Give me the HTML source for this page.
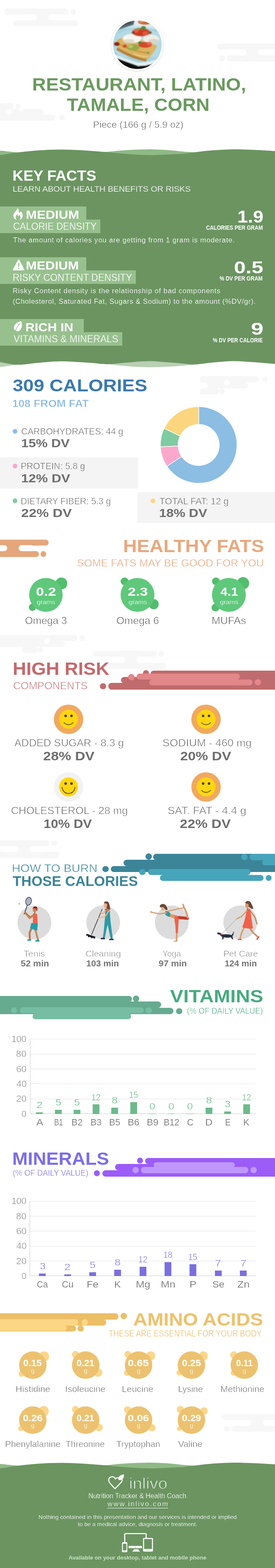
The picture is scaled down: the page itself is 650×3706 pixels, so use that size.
<!DOCTYPE html>
<html lang="en"><head><meta charset="utf-8"><title>Restaurant, Latino, tamale, corn</title><style>
html,body{margin:0;padding:0;background:#fff;}
body{width:650px;height:3706px;overflow:hidden;font-family:"Liberation Sans",sans-serif;}
#wrap{position:relative;width:650px;height:3706px;overflow:hidden;background:#fff;}
.b{position:absolute;display:block;}
.t{position:absolute;white-space:nowrap;line-height:1;margin:0;padding:0;transform-origin:0 0;}
</style></head>
<body>
<div id="wrap">
<!-- header -->
<div class="b" style="left:10.5px;top:20.4px;width:174px;height:42px;"><div class="b" style="left:0px;top:0px;width:151px;height:14.2px;background:#f7f7f7;border-radius:7.1px;"></div><div class="b" style="left:155.2px;top:0.2px;width:13.6px;height:13.6px;background:#f7f7f7;border-radius:50%;"></div><div class="b" style="left:21px;top:27.8px;width:153px;height:14.2px;background:#f7f7f7;border-radius:7.1px;"></div><div class="b" style="left:66px;top:13.5px;width:47px;height:15px;background:#f7f7f7;"></div><div class="b" style="left:40px;top:14px;width:36.5px;height:14px;background:#fff;border-radius:7px;"></div><div class="b" style="left:103.5px;top:14px;width:36.5px;height:14px;background:#fff;border-radius:7px;"></div></div>
<div class="b" style="left:513px;top:103.4px;width:174px;height:42px;transform:scale(-1,-1);"><div class="b" style="left:0px;top:0px;width:151px;height:14.2px;background:#f7f7f7;border-radius:7.1px;"></div><div class="b" style="left:155.2px;top:0.2px;width:13.6px;height:13.6px;background:#f7f7f7;border-radius:50%;"></div><div class="b" style="left:21px;top:27.8px;width:153px;height:14.2px;background:#f7f7f7;border-radius:7.1px;"></div><div class="b" style="left:66px;top:13.5px;width:47px;height:15px;background:#f7f7f7;"></div><div class="b" style="left:40px;top:14px;width:36.5px;height:14px;background:#fff;border-radius:7px;"></div><div class="b" style="left:103.5px;top:14px;width:36.5px;height:14px;background:#fff;border-radius:7px;"></div></div>
<div class="b" style="left:-20px;top:244px;width:52px;height:14px;background:#f7f7f7;border-radius:7px;"></div>
<div class="b" style="left:37px;top:245px;width:12px;height:12px;background:#f7f7f7;border-radius:50%;"></div>
<div class="b" style="left:-20px;top:257.5px;width:123.5px;height:13.5px;background:#f7f7f7;border-radius:6.75px;"></div>
<div class="b" style="left:-20px;top:270.5px;width:151px;height:14px;background:#f7f7f7;border-radius:7px;"></div>
<div class="b" style="left:139.9px;top:270.9px;width:13.2px;height:13.2px;background:#f7f7f7;border-radius:50%;"></div>
<div class="b" style="left:16px;top:258.5px;width:12px;height:12px;background:#fff;border-radius:50%;"></div>
<div class="b" style="left:45px;top:253px;width:10px;height:10px;background:#fff;border-radius:50%;"></div>
<svg class="b" style="left:255px;top:35px" width="140" height="140" viewBox="0 0 140 140">
<defs><clipPath id="pc"><circle cx="69.7" cy="70.6" r="57.4"/></clipPath>
<filter id="bl" x="-20%" y="-20%" width="140%" height="140%"><feGaussianBlur stdDeviation="1.1"/></filter>
<filter id="bs" x="-20%" y="-20%" width="140%" height="140%"><feGaussianBlur stdDeviation="1.2"/></filter></defs>
<circle cx="69.7" cy="71.4" r="62.6" fill="#e4e4e4" filter="url(#bs)"/>
<circle cx="69.7" cy="70.6" r="61.6" fill="#fff"/>
<g clip-path="url(#pc)"><g filter="url(#bl)">
<rect x="0" y="0" width="140" height="140" fill="#a6d3df"/>
<path d="M0 36 Q60 24 140 38 L140 0 L0 0Z" fill="#cbe5ec"/>
<path d="M8 6 L66 6 L60 24 Q40 30 16 38Z" fill="#56666b"/>
<path d="M18 12 L58 10 L54 20 L22 28Z" fill="#3f4e53"/>
<path d="M62 10 L112 10 L116 26 Q90 30 64 24Z" fill="#e6eeee"/>
<ellipse cx="88" cy="17" rx="17" ry="6.5" fill="#c9673a"/>
<ellipse cx="80" cy="15" rx="6" ry="3" fill="#e0a06a"/>
<ellipse cx="99" cy="13" rx="6" ry="3" fill="#ecdcbc"/>
<path d="M0 62 Q20 40 60 34 Q100 30 140 52 L140 100 L0 100Z" fill="#b3dae5"/>
<path d="M0 70 Q10 90 40 104 L0 110Z" fill="#8fc6d8"/>
<path d="M0 86 Q30 100 70 113 Q110 112 140 94 L140 140 L0 140Z" fill="#e3eff2"/>
<path d="M0 94 Q34 108 72 121 Q110 119 140 103 L140 140 L0 140Z" fill="#0d0d0d"/>
<path d="M20.5 59 Q40 50 58 51 L117 73 Q108 92 91 108 Q58 101 24 80Z" fill="#dcb362"/>
<path d="M22 77 Q58 98 92 105 L90 110.5 Q56 105 20 83Z" fill="#b3823a"/>
<path d="M28 70 Q60 88 98 90" stroke="#c08f40" stroke-width="2.2" fill="none"/>
<path d="M60 92 Q80 100 96 98" stroke="#eed48a" stroke-width="2" fill="none"/>
<ellipse cx="102" cy="57" rx="19" ry="10" fill="#efede6"/>
<ellipse cx="108" cy="62" rx="12" ry="5" fill="#d9d4c6"/>
<ellipse cx="57" cy="56" rx="22" ry="10.5" fill="#f6f5ef"/>
<ellipse cx="50" cy="62" rx="13" ry="4.5" fill="#dedacc"/>
<ellipse cx="78" cy="41" rx="21" ry="10" fill="#cc3a20"/>
<ellipse cx="90" cy="44" rx="8" ry="5" fill="#e2573a"/>
<ellipse cx="66" cy="38" rx="6" ry="4.5" fill="#e4603c"/>
<ellipse cx="84" cy="31" rx="6" ry="4.5" fill="#4c8a38"/>
<ellipse cx="72" cy="33" rx="3.5" ry="3" fill="#79a84c"/>
<ellipse cx="60" cy="42" rx="4" ry="3" fill="#8b3a22"/>
<ellipse cx="99" cy="42" rx="5" ry="3.5" fill="#8b5a36"/>
<ellipse cx="88" cy="71" rx="16" ry="7" fill="#d4472a"/>
<ellipse cx="98" cy="68" rx="6" ry="4" fill="#e86a48"/>
<ellipse cx="60" cy="77" rx="15" ry="7.5" fill="#95a946"/>
<ellipse cx="54" cy="75" rx="6" ry="4" fill="#b9c466"/>
<ellipse cx="76" cy="66" rx="5" ry="3" fill="#3f7a30"/>
<ellipse cx="21" cy="69" rx="7" ry="5" fill="#8f2817"/>
<ellipse cx="40" cy="74" rx="5" ry="4" fill="#cf4a2a"/>
<ellipse cx="95" cy="90" rx="3" ry="2.5" fill="#6a9a3a"/>
<rect x="80" y="117.5" width="12" height="2.2" fill="#f2f2f2"/>
</g></g>
</svg>
<div class="t" style="left:76.15px;top:177.83px;font-size:43.2px;color:#6a9a5f;font-weight:700;transform:scaleX(1.047);">RESTAURANT, LATINO,</div>
<div class="t" style="left:158.36px;top:225.93px;font-size:43.2px;color:#6a9a5f;font-weight:700;transform:scaleX(1.0288);">TAMALE, CORN</div>
<div class="t" style="left:220.15px;top:284.28px;font-size:22.6px;color:#555;transform:scaleX(0.9939);-webkit-text-stroke:0.6px #fff;">Piece (166 g / 5.9 oz)</div>
<!-- key facts -->
<div class="b" style="left:0px;top:370px;width:650px;height:480px;background:#6b9461;"></div>
<svg class="b" style="left:0;top:345px" width="650" height="30" viewBox="0 345 650 30"><path d="M-30 355 C-25 355.15 -11.83 355.02 0 355.9 C11.83 356.78 27.67 358.87 41 360.3 C54.33 361.73 63.5 363.55 80 364.5 C96.5 365.45 117.5 366.25 140 366 C162.5 365.75 196.83 364.12 215 363 C233.17 361.88 234.83 360.67 249 359.3 C263.17 357.93 282.17 355.85 300 354.8 C317.83 353.75 339.33 352.97 356 353 C372.67 353.03 386.83 354.1 400 355 C413.17 355.9 425.17 357.57 435 358.4 C444.83 359.23 448.17 359.07 459 360 C469.83 360.93 483.17 363 500 364 C516.83 365 530 365.67 560 366 C590 366.33 660 366 680 366 L680 376 L-30 376 Z" fill="#8fb986"/><path d="M-30 367 C-25 366.93 -11.83 367.72 0 366.6 C11.83 365.48 26 362.15 41 360.3 C56 358.45 73.33 356.63 90 355.5 C106.67 354.37 124.33 353.58 141 353.5 C157.67 353.42 176.83 354.42 190 355 C203.17 355.58 210.17 356.28 220 357 C229.83 357.72 235.67 358.13 249 359.3 C262.33 360.47 282.17 362.78 300 364 C317.83 365.22 337.67 366.52 356 366.6 C374.33 366.68 396.83 365.07 410 364.5 C423.17 363.93 426.83 363.95 435 363.2 C443.17 362.45 448.17 361.28 459 360 C469.83 358.72 484.67 356.67 500 355.5 C515.33 354.33 534.33 353.2 551 353 C567.67 352.8 583.5 353.63 600 354.3 C616.5 354.97 636.67 356.22 650 357 C663.33 357.78 675 358.67 680 359 L680 376 L-30 376 Z" fill="#6b9461"/></svg>
<svg class="b" style="left:0;top:845px" width="650" height="30" viewBox="0 845 650 30"><path d="M-20 868.5 C-16.67 868.35 -10.33 868.68 0 867.6 C10.33 866.52 25.33 863.93 42 862 C58.67 860.07 82 857.5 100 856 C118 854.5 133.33 853 150 853 C166.67 853 182.67 854.72 200 856 C217.33 857.28 237.33 859.12 254 860.7 C270.67 862.28 283.83 864.28 300 865.5 C316.17 866.72 332.67 867.92 351 868 C369.33 868.08 392 867.07 410 866 C428 864.93 440.67 863.43 459 861.6 C477.33 859.77 499.83 856.6 520 855 C540.17 853.4 555 852.5 580 852 C605 851.5 655 852 670 852 L670 844 L-20 844 Z" fill="#b9d0b3"/><path d="M-20 855 C-16.67 855.15 -10.33 854.73 0 855.9 C10.33 857.07 27.33 861.7 42 862 C56.67 862.3 71.5 859.03 88 857.7 C104.5 856.37 124 854.28 141 854 C158 853.72 176.83 855.33 190 856 C203.17 856.67 209.33 857.22 220 858 C230.67 858.78 240.67 860.87 254 860.7 C267.33 860.53 283.83 858.22 300 857 C316.17 855.78 334.33 853.48 351 853.4 C367.67 853.32 386 855.48 400 856.5 C414 857.52 425.17 858.65 435 859.5 C444.83 860.35 448.17 862.02 459 861.6 C469.83 861.18 484.67 858.37 500 857 C515.33 855.63 534.33 853.57 551 853.4 C567.67 853.23 583.5 854.87 600 856 C616.5 857.13 638.33 859.37 650 860.2 C661.67 861.03 666.67 860.87 670 861 L670 844 L-20 844 Z" fill="#6b9461"/></svg>
<div class="t" style="left:29.61px;top:397.63px;font-size:35.4px;color:#fff;font-weight:700;">KEY FACTS</div>
<div class="t" style="left:30.37px;top:437.16px;font-size:19.05px;color:#fff;transform:scaleX(1.0348);-webkit-text-stroke:0.25px #6b9461;">LEARN ABOUT HEALTH BENEFITS OR RISKS</div>
<div class="b" style="left:0px;top:487.8px;width:204.4px;height:31.2px;background:#98c08e;"></div>
<div class="b" style="left:0px;top:518.8px;width:237.3px;height:31.8px;background:#98c08e;"></div>
<div class="t" style="left:60.9px;top:492.64px;font-size:28.3px;color:#fff;font-weight:700;transform:scaleX(1.099);">MEDIUM</div>
<div class="t" style="left:30.7px;top:524.48px;font-size:23.3px;color:#fff;transform:scaleX(0.9406);-webkit-text-stroke:0.3px #98c08e;">CALORIE DENSITY</div>
<svg class="b" style="left:31px;top:491.8px" width="23" height="29" viewBox="0 0.8 23 29"><path d="M10.2 0.3 C12.5 2.6 13.3 5.2 13.3 8.3 C13.3 10 14.2 11.2 15.4 11.2 C16.9 11.2 17.6 9.8 17.2 7.6 C20.6 10.4 22.6 14.2 22.6 18.2 C22.6 23.6 19.3 27.3 15.2 28.6 C16.9 27 17.6 25.2 17.6 23.4 C17.6 20.6 15.9 18.9 15.2 16.5 C13.6 17.3 12.9 18.8 12.9 20.4 C10.9 19 10.2 16.6 10.6 14.2 C7.9 16 6.2 19.4 6.2 22.6 C6.2 25 7 27 8.6 28.6 C3.9 27.4 0.5 23.4 0.5 18.4 C0.5 14.6 2.4 12.3 4.4 10 C6.8 7.2 9.6 4.6 10.2 0.3Z" fill="#fff"/></svg>
<div class="b" style="left:0px;top:608px;width:203.9px;height:31.2px;background:#98c08e;"></div>
<div class="b" style="left:0px;top:639px;width:321.4px;height:31.8px;background:#98c08e;"></div>
<div class="t" style="left:60.91px;top:612.84px;font-size:28.3px;color:#fff;font-weight:700;transform:scaleX(1.0918);">MEDIUM</div>
<div class="t" style="left:29.96px;top:644.68px;font-size:23.3px;color:#fff;transform:scaleX(0.9551);-webkit-text-stroke:0.3px #98c08e;">RISKY CONTENT DENSITY</div>
<svg class="b" style="left:29.5px;top:613.6px" width="29" height="26" viewBox="0 0 29 26"><path d="M14.1 0.6 L26.2 23.4 L2 23.4Z" fill="#fff" stroke="#fff" stroke-width="3" stroke-linejoin="round"/><path d="M12.5 7.8 L15.7 7.8 L15.1 17 L13.1 17Z" fill="#98c08e"/><circle cx="14.1" cy="20.3" r="1.6" fill="#98c08e"/></svg>
<div class="b" style="left:0px;top:753.8px;width:198px;height:31.2px;background:#98c08e;"></div>
<div class="b" style="left:0px;top:784.8px;width:288.7px;height:31.8px;background:#98c08e;"></div>
<div class="t" style="left:60.24px;top:758.64px;font-size:28.3px;color:#fff;font-weight:700;transform:scaleX(1.0761);">RICH  IN</div>
<div class="t" style="left:31.69px;top:790.48px;font-size:23.3px;color:#fff;transform:scaleX(0.9675);-webkit-text-stroke:0.3px #98c08e;">VITAMINS &amp; MINERALS</div>
<svg class="b" style="left:32px;top:758px" width="21" height="26" viewBox="12 7 21 26"><path d="M30.2 8 C24 9 16 13 13.5 20 C12 24 13 27 14 28 L17 30 C19 32 22 32.5 24.5 31.5 C30 29 32.5 22 31.5 15 C31.2 12 30.8 10 30.2 8Z" fill="#fff"/><path d="M27.2 13.5 C22 19 18.2 25 16.6 31" stroke="#98c08e" stroke-width="1.3" fill="none"/></svg>
<div class="t" style="left:31.13px;top:560.03px;font-size:16px;color:#fff;letter-spacing:0.76px;transform:scaleX(1.04);-webkit-text-stroke:0.2px #6b9461;">The amount of calories you are getting from 1 gram is moderate.</div>
<div class="t" style="left:30.13px;top:680.03px;font-size:16px;color:#fff;letter-spacing:0.82px;transform:scaleX(1.04);-webkit-text-stroke:0.2px #6b9461;">Risky Content density is the relationship of bad components</div>
<div class="t" style="left:29.96px;top:704.73px;font-size:16px;color:#fff;letter-spacing:0.65px;transform:scaleX(1.04);-webkit-text-stroke:0.2px #6b9461;">(Cholesterol, Saturated Fat, Sugars &amp; Sodium) to the amount (%DV/gr).</div>
<div class="t" style="left:560.72px;top:491.62px;font-size:41.2px;color:#fff;font-weight:700;transform:scaleX(1.0798);">1.9</div>
<div class="t" style="left:486.8px;top:531.35px;font-size:14px;color:#fff;font-weight:700;transform:scaleX(0.8856);">CALORIES PER GRAM</div>
<div class="t" style="left:553.3px;top:611.62px;font-size:41.2px;color:#fff;font-weight:700;transform:scaleX(1.2113);">0.5</div>
<div class="t" style="left:519.49px;top:651.45px;font-size:14px;color:#fff;font-weight:700;transform:scaleX(0.8827);">% DV PER GRAM</div>
<div class="t" style="left:593.12px;top:756.62px;font-size:41.2px;color:#fff;font-weight:700;transform:scaleX(1.3012);">9</div>
<div class="t" style="left:502.5px;top:797.15px;font-size:14px;color:#fff;font-weight:700;transform:scaleX(0.8703);">% DV PER CALORIE</div>
<!-- calories -->
<div class="b" style="left:472px;top:889px;width:162px;height:43.5px;"><div class="b" style="left:0px;top:0px;width:138.6px;height:14.6px;background:#f7f7f7;border-radius:7.3px;"></div><div class="b" style="left:147.8px;top:0.5px;width:13.6px;height:13.6px;background:#f7f7f7;border-radius:50%;"></div><div class="b" style="left:8px;top:14.4px;width:92px;height:14.7px;background:#f7f7f7;"></div><div class="b" style="left:80px;top:14.4px;width:33.5px;height:14.7px;background:#f7f7f7;border-radius:7.35px;"></div><div class="b" style="left:0px;top:28.9px;width:46px;height:14.6px;background:#f7f7f7;border-radius:7.3px;"></div><div class="b" style="left:45.7px;top:29.4px;width:13.6px;height:13.6px;background:#f7f7f7;border-radius:50%;"></div><div class="b" style="left:-12px;top:14.5px;width:31px;height:14.5px;background:#fff;border-radius:7.25px;"></div><div class="b" style="left:57.6px;top:8.6px;width:13.6px;height:13.6px;background:#fff;border-radius:50%;"></div></div>
<div class="t" style="left:29.99px;top:890.52px;font-size:41.2px;color:#3b79ae;font-weight:700;transform:scaleX(1.0858);">309 CALORIES</div>
<div class="t" style="left:29.38px;top:941.74px;font-size:24.5px;color:#86b6e1;font-weight:700;transform:scaleX(1.0573);-webkit-text-stroke:0.5px #fff;">108 FROM FAT</div>
<div class="b" style="left:0px;top:1080.8px;width:326px;height:74px;background:#f4f4f4;"></div>
<div class="b" style="left:325px;top:1162.5px;width:325px;height:73.1px;background:#f4f4f4;"></div>
<div class="b" style="left:29.5px;top:1013.5px;width:11.2px;height:11.2px;background:#8cbde3;border-radius:50%;"></div>
<div class="t" style="left:49.94px;top:1008.88px;font-size:22.6px;color:#5e5e5e;transform:scaleX(0.9346);-webkit-text-stroke:0.6px #fff;">CARBOHYDRATES: 44 g</div>
<div class="t" style="left:49.55px;top:1034.17px;font-size:27.8px;color:#6e6e6e;font-weight:700;transform:scaleX(1.1241);">15% DV</div>
<div class="b" style="left:29.5px;top:1095.9px;width:11.2px;height:11.2px;background:#fba8cc;border-radius:50%;"></div>
<div class="t" style="left:49.26px;top:1091.28px;font-size:22.6px;color:#5e5e5e;transform:scaleX(0.9315);-webkit-text-stroke:0.6px #f4f4f4;">PROTEIN: 5.8 g</div>
<div class="t" style="left:49.53px;top:1116.57px;font-size:27.8px;color:#6e6e6e;font-weight:700;transform:scaleX(1.1351);">12% DV</div>
<div class="b" style="left:29.5px;top:1178.3px;width:11.2px;height:11.2px;background:#80cba2;border-radius:50%;"></div>
<div class="t" style="left:49.28px;top:1173.68px;font-size:22.6px;color:#5e5e5e;transform:scaleX(0.9218);-webkit-text-stroke:0.6px #fff;">DIETARY FIBER: 5.3 g</div>
<div class="t" style="left:50.36px;top:1198.97px;font-size:27.8px;color:#6e6e6e;font-weight:700;transform:scaleX(1.1751);">22% DV</div>
<div class="b" style="left:356.2px;top:1178.3px;width:11.2px;height:11.2px;background:#fbd67e;border-radius:50%;"></div>
<div class="t" style="left:376.51px;top:1173.68px;font-size:22.6px;color:#5e5e5e;transform:scaleX(0.9611);-webkit-text-stroke:0.6px #f4f4f4;">TOTAL FAT: 12 g</div>
<div class="t" style="left:375.56px;top:1198.97px;font-size:27.8px;color:#6e6e6e;font-weight:700;transform:scaleX(1.1141);">18% DV</div>
<svg class="b" style="left:377.4px;top:958.9px" width="185.2" height="185.2" viewBox="-92.6 -92.6 185.2 185.2"><path d="M0 -90.6 A90.6 90.6 0 1 1 -75.17 50.58 L-40.41 27.19 A48.7 48.7 0 1 0 0 -48.7 Z" fill="#8cbde3" stroke="#fff" stroke-width="1.4" stroke-linejoin="round"/><path d="M-75.17 50.58 A90.6 90.6 0 0 1 -90.49 4.45 L-48.64 2.39 A48.7 48.7 0 0 0 -40.41 27.19 Z" fill="#fba8cc" stroke="#fff" stroke-width="1.4" stroke-linejoin="round"/><path d="M-90.49 4.45 A90.6 90.6 0 0 1 -81.69 -39.17 L-43.91 -21.06 A48.7 48.7 0 0 0 -48.64 2.39 Z" fill="#80cba2" stroke="#fff" stroke-width="1.4" stroke-linejoin="round"/><path d="M-81.69 -39.17 A90.6 90.6 0 0 1 0 -90.6 L0 -48.7 A48.7 48.7 0 0 0 -43.91 -21.06 Z" fill="#fbd67e" stroke="#fff" stroke-width="1.4" stroke-linejoin="round"/></svg>
<!-- healthy fats -->
<div class="b" style="left:-59.5px;top:1275px;width:174px;height:41.5px;transform:scale(1,-1);"><div class="b" style="left:0px;top:0px;width:151px;height:14.03px;background:#e4a77b;border-radius:7.02px;"></div><div class="b" style="left:155.2px;top:0.12px;width:13.6px;height:13.6px;background:#e4a77b;border-radius:50%;"></div><div class="b" style="left:21px;top:27.47px;width:153px;height:14.03px;background:#e4a77b;border-radius:7.02px;"></div><div class="b" style="left:66px;top:13.33px;width:47px;height:14.83px;background:#e4a77b;"></div><div class="b" style="left:40px;top:13.83px;width:36.5px;height:13.83px;background:#fff;border-radius:6.92px;"></div><div class="b" style="left:103.5px;top:13.83px;width:36.5px;height:13.83px;background:#fff;border-radius:6.92px;"></div></div>
<div class="t" style="left:290.76px;top:1268.53px;font-size:43.2px;color:#e9a87e;font-weight:700;transform:scaleX(1.0435);">HEALTHY FATS</div>
<div class="t" style="left:181.58px;top:1319.11px;font-size:24.55px;color:#e8a277;transform:scaleX(1.0128);-webkit-text-stroke:0.55px #fff;">SOME FATS MAY BE GOOD FOR YOU</div>
<div class="b" style="left:131.3px;top:1365.2px;width:28px;height:28px;background:#53bd6e;border-radius:50%;"></div>
<div class="b" style="left:67.8px;top:1426.8px;width:17.4px;height:17.4px;background:#53bd6e;border-radius:50%;"></div>
<div class="b" style="left:68.5px;top:1366px;width:79.8px;height:79.8px;background:#5fc87b;border-radius:50%;"></div>
<div class="t" style="left:85.03px;top:1385.32px;font-size:27.5px;color:#fff;font-weight:700;transform:scaleX(1.2468);">0.2</div>
<div class="t" style="left:87.24px;top:1415.12px;font-size:15.1px;color:#fff;transform:scaleX(1.0302);-webkit-text-stroke:0.3px #5fc87b;">grams</div>
<div class="t" style="left:59.45px;top:1455.16px;font-size:24.4px;color:#5a5a5a;transform:scaleX(0.9903);-webkit-text-stroke:0.6px #fff;">Omega 3</div>
<div class="b" style="left:285.3px;top:1364.9px;width:18.6px;height:18.6px;background:#53bd6e;border-radius:50%;"></div>
<div class="b" style="left:351.6px;top:1416px;width:23.6px;height:23.6px;background:#53bd6e;border-radius:50%;"></div>
<div class="b" style="left:285.2px;top:1366px;width:79.8px;height:79.8px;background:#5fc87b;border-radius:50%;"></div>
<div class="t" style="left:301.91px;top:1385.32px;font-size:27.5px;color:#fff;font-weight:700;transform:scaleX(1.2397);">2.3</div>
<div class="t" style="left:303.94px;top:1415.12px;font-size:15.1px;color:#fff;transform:scaleX(1.0302);-webkit-text-stroke:0.3px #5fc87b;">grams</div>
<div class="t" style="left:275.33px;top:1455.16px;font-size:24.4px;color:#5a5a5a;transform:scaleX(1.0066);-webkit-text-stroke:0.6px #fff;">Omega 6</div>
<div class="b" style="left:501px;top:1364.9px;width:18.6px;height:18.6px;background:#53bd6e;border-radius:50%;"></div>
<div class="b" style="left:559.8px;top:1363.6px;width:29.2px;height:29.2px;background:#53bd6e;border-radius:50%;"></div>
<div class="b" style="left:500.3px;top:1426.8px;width:18.6px;height:18.6px;background:#53bd6e;border-radius:50%;"></div>
<div class="b" style="left:501.1px;top:1366px;width:79.8px;height:79.8px;background:#5fc87b;border-radius:50%;"></div>
<div class="t" style="left:520.8px;top:1385.32px;font-size:27.5px;color:#fff;font-weight:700;transform:scaleX(1.0929);">4.1</div>
<div class="t" style="left:519.84px;top:1415.12px;font-size:15.1px;color:#fff;transform:scaleX(1.0302);-webkit-text-stroke:0.3px #5fc87b;">grams</div>
<div class="t" style="left:500.34px;top:1455.16px;font-size:24.4px;color:#5a5a5a;transform:scaleX(1.022);-webkit-text-stroke:0.6px #fff;">MUFAs</div>
<!-- high risk -->
<div class="b" style="left:-20px;top:1500.7px;width:202.5px;height:14.8px;background:#f7f7f7;border-radius:7.4px;"></div>
<div class="b" style="left:187.8px;top:1501.4px;width:13.6px;height:13.6px;background:#f7f7f7;border-radius:50%;"></div>
<div class="b" style="left:-20px;top:1515.1px;width:173px;height:14.4px;background:#f7f7f7;border-radius:7.2px;"></div>
<div class="b" style="left:50px;top:1508px;width:70px;height:14px;background:#f7f7f7;"></div>
<div class="b" style="left:52px;top:1529.1px;width:38px;height:14.4px;background:#f7f7f7;border-radius:7.2px;"></div>
<div class="b" style="left:56px;top:1522px;width:28px;height:14px;background:#f7f7f7;"></div>
<div class="b" style="left:88.7px;top:1529.5px;width:13.6px;height:13.6px;background:#f7f7f7;border-radius:50%;"></div>
<div class="b" style="left:104.2px;top:1508.5px;width:13.6px;height:13.6px;background:#fff;border-radius:50%;"></div>
<div class="b" style="left:219px;top:1537.7px;width:174px;height:43.8px;"><div class="b" style="left:0px;top:0px;width:151px;height:14.8px;background:#f7f7f7;border-radius:7.4px;"></div><div class="b" style="left:155.2px;top:0.5px;width:13.6px;height:13.6px;background:#f7f7f7;border-radius:50%;"></div><div class="b" style="left:21px;top:29px;width:153px;height:14.8px;background:#f7f7f7;border-radius:7.4px;"></div><div class="b" style="left:66px;top:14.1px;width:47px;height:15.6px;background:#f7f7f7;"></div><div class="b" style="left:40px;top:14.6px;width:36.5px;height:14.6px;background:#fff;border-radius:7.3px;"></div><div class="b" style="left:103.5px;top:14.6px;width:36.5px;height:14.6px;background:#fff;border-radius:7.3px;"></div></div>
<div class="b" style="left:356px;top:1584.9px;width:344px;height:14.9px;background:#c06b6e;border-radius:7.45px 0 0 7.45px;"></div><div class="b" style="left:338.4px;top:1584.1px;width:13.2px;height:13.2px;background:#c06b6e;border-radius:50%;"></div><div class="b" style="left:286px;top:1599.5px;width:414px;height:15.2px;background:#c06b6e;border-radius:7.6px 0 0 7.6px;"></div><div class="b" style="left:256px;top:1614.4px;width:444px;height:15.2px;background:#c06b6e;border-radius:7.6px 0 0 7.6px;"></div><div class="b" style="left:236px;top:1614.6px;width:14.6px;height:14.6px;background:#c06b6e;border-radius:50%;"></div>
<div class="b" style="left:303px;top:1593.2px;width:14.6px;height:14.6px;background:#e2878a;border-radius:50%;"></div>
<div class="b" style="left:323px;top:1592.3px;width:243.6px;height:14.1px;background:#e2878a;border-radius:7.05px;"></div>
<div class="b" style="left:352.8px;top:1606px;width:243.8px;height:14px;background:#e2878a;border-radius:7px;"></div>
<div class="b" style="left:602.1px;top:1605.2px;width:14.6px;height:14.6px;background:#e2878a;border-radius:50%;"></div>
<div class="t" style="left:29.62px;top:1558.63px;font-size:43.2px;color:#c4696d;font-weight:700;transform:scaleX(1.0232);">HIGH RISK</div>
<div class="t" style="left:30.77px;top:1609.34px;font-size:24.7px;color:#c26468;transform:scaleX(0.996);-webkit-text-stroke:0.7px #fff;">COMPONENTS</div>
<svg class="b" style="left:126px;top:1664px" width="72" height="72" viewBox="-36 -36 72 72"><circle r="34.8" fill="#f0a95f"/><circle r="22.4" fill="#ffd60f"/><circle cx="-6.9" cy="-8" r="3" fill="#3f3a34"/><circle cx="7" cy="-8" r="3" fill="#3f3a34"/><path d="M-11 8 Q0 17.5 11 8" fill="none" stroke="#3f3a34" stroke-width="1.6" stroke-linecap="round"/></svg>
<div class="t" style="left:33.84px;top:1744.24px;font-size:24.7px;color:#5e5e5e;transform:scaleX(1.0037);-webkit-text-stroke:0.7px #fff;">ADDED SUGAR - 8.3 g</div>
<div class="t" style="left:101.64px;top:1772.15px;font-size:30.3px;color:#6e6e6e;font-weight:700;transform:scaleX(1.0918);">28% DV</div>
<svg class="b" style="left:451px;top:1664px" width="72" height="72" viewBox="-36 -36 72 72"><circle r="34.8" fill="#f0a95f"/><circle r="22.4" fill="#ffd60f"/><circle cx="-6.9" cy="-8" r="3" fill="#3f3a34"/><circle cx="7" cy="-8" r="3" fill="#3f3a34"/><path d="M-11 8 Q0 17.5 11 8" fill="none" stroke="#3f3a34" stroke-width="1.6" stroke-linecap="round"/></svg>
<div class="t" style="left:383.55px;top:1744.24px;font-size:24.7px;color:#5e5e5e;transform:scaleX(1.0377);-webkit-text-stroke:0.7px #fff;">SODIUM - 460 mg</div>
<div class="t" style="left:425.65px;top:1772.15px;font-size:30.3px;color:#6e6e6e;font-weight:700;transform:scaleX(1.0827);">20% DV</div>
<svg class="b" style="left:126px;top:1824px" width="72" height="72" viewBox="-36 -36 72 72"><circle r="34.8" fill="#f2f2f2"/><circle r="22.4" fill="#ffd60f"/><circle cx="-6.9" cy="-8" r="3" fill="#3f3a34"/><circle cx="7" cy="-8" r="3" fill="#3f3a34"/><path d="M-15 0.5 A15 15 0 0 0 15 0.5" fill="none" stroke="#3f3a34" stroke-width="1.6" stroke-linecap="round"/></svg>
<div class="t" style="left:26.05px;top:1904.24px;font-size:24.7px;color:#5e5e5e;transform:scaleX(1.0095);-webkit-text-stroke:0.7px #fff;">CHOLESTEROL - 28 mg</div>
<div class="t" style="left:102.56px;top:1932.15px;font-size:30.3px;color:#6e6e6e;font-weight:700;transform:scaleX(1.0268);">10% DV</div>
<svg class="b" style="left:451px;top:1824px" width="72" height="72" viewBox="-36 -36 72 72"><circle r="34.8" fill="#f0a95f"/><circle r="22.4" fill="#ffd60f"/><circle cx="-6.9" cy="-8" r="3" fill="#3f3a34"/><circle cx="7" cy="-8" r="3" fill="#3f3a34"/><path d="M-11 8 Q0 17.5 11 8" fill="none" stroke="#3f3a34" stroke-width="1.6" stroke-linecap="round"/></svg>
<div class="t" style="left:395.83px;top:1904.24px;font-size:24.7px;color:#5e5e5e;transform:scaleX(1.0517);-webkit-text-stroke:0.7px #fff;">SAT. FAT - 4.4 g</div>
<div class="t" style="left:424.85px;top:1932.15px;font-size:30.3px;color:#6e6e6e;font-weight:700;transform:scaleX(1.0827);">22% DV</div>
<!-- burn -->
<div class="b" style="left:-34px;top:1985.7px;width:174px;height:42px;"><div class="b" style="left:0px;top:0px;width:151px;height:14.2px;background:#f7f7f7;border-radius:7.1px;"></div><div class="b" style="left:155.2px;top:0.2px;width:13.6px;height:13.6px;background:#f7f7f7;border-radius:50%;"></div><div class="b" style="left:21px;top:27.8px;width:153px;height:14.2px;background:#f7f7f7;border-radius:7.1px;"></div><div class="b" style="left:66px;top:13.5px;width:47px;height:15px;background:#f7f7f7;"></div><div class="b" style="left:40px;top:14px;width:36.5px;height:14px;background:#fff;border-radius:7px;"></div><div class="b" style="left:103.5px;top:14px;width:36.5px;height:14px;background:#fff;border-radius:7px;"></div></div>
<div class="b" style="left:361.5px;top:2018px;width:338.5px;height:14.7px;background:#3c8599;border-radius:7.35px 0 0 7.35px;"></div>
<div class="b" style="left:344.3px;top:2017.4px;width:14.8px;height:14.8px;background:#3c8599;border-radius:50%;"></div>
<div class="b" style="left:292.3px;top:2032.2px;width:407.7px;height:14.8px;background:#3c8599;border-radius:7.4px 0 0 7.4px;"></div>
<div class="b" style="left:261.6px;top:2046.5px;width:438.4px;height:14.8px;background:#3c8599;border-radius:7.4px 0 0 7.4px;"></div>
<div class="b" style="left:242.2px;top:2046.6px;width:14.6px;height:14.6px;background:#3c8599;border-radius:50%;"></div>
<div class="b" style="left:329px;top:2053.9px;width:14.6px;height:14.6px;background:#46a5bb;border-radius:50%;"></div>
<div class="b" style="left:349.5px;top:2054px;width:242.8px;height:14.4px;background:#46a5bb;border-radius:7.2px;"></div>
<div class="b" style="left:378.4px;top:2068px;width:244.6px;height:14px;background:#46a5bb;border-radius:7px;"></div>
<div class="b" style="left:627.9px;top:2067.7px;width:14.6px;height:14.6px;background:#46a5bb;border-radius:50%;"></div>
<div class="b" style="left:570.4px;top:2018.2px;width:14.6px;height:14.6px;background:#46a5bb;border-radius:50%;"></div>
<div class="b" style="left:589.8px;top:2018px;width:110.2px;height:14.6px;background:#46a5bb;border-radius:7.3px 0 0 7.3px;"></div>
<div class="b" style="left:620.4px;top:2032.2px;width:79.6px;height:12.8px;background:#46a5bb;border-radius:6.4px 0 0 6.4px;"></div>
<div class="t" style="left:27.68px;top:2038.72px;font-size:26.55px;color:#38859a;transform:scaleX(1.0607);-webkit-text-stroke:0.55px #fff;">HOW TO BURN</div>
<div class="t" style="left:29.67px;top:2065.64px;font-size:33.5px;color:#3a8499;font-weight:700;transform:scaleX(0.9938);">THOSE CALORIES</div>
<svg class="b" style="left:25px;top:2115px" width="120" height="120" viewBox="0 0 120 120">
<circle cx="56.3" cy="65.6" r="40" fill="#dcdcdc"/>
<circle cx="20.7" cy="21.2" r="1.9" fill="#f0a468"/>
<g transform="rotate(14 42.5 15.1)"><ellipse cx="42.5" cy="15.1" rx="6.6" ry="9.6" fill="#e9ecf1" stroke="#27344f" stroke-width="1.5"/>
<path d="M38 9 L47 9 M36.5 12 L48.5 12 M36 15 L49 15 M36.5 18 L48.5 18 M38 21 L47 21 M40 6.5 L40 23.5 M42.5 5.5 L42.5 24.5 M45 6.5 L45 23.5" stroke="#27344f" stroke-width="0.45" fill="none"/></g>
<path d="M39.6 24.6 L32.2 45.4" stroke="#27344f" stroke-width="1.7" stroke-linecap="round"/>
<path d="M49.5 79 L45 89 L45.6 105" stroke="#b9794c" stroke-width="4.4" fill="none" stroke-linecap="round" stroke-linejoin="round"/>
<path d="M58.5 82 L61.5 94 L65 106.5" stroke="#c68a5c" stroke-width="4.4" fill="none" stroke-linecap="round" stroke-linejoin="round"/>
<path d="M49 66.5 L64.3 67.3 L63 84.5 L55 82.5 L46 78.8Z" fill="#2b9aa6"/>
<path d="M52.6 44.4 Q58 42.5 63 46 L64 67.5 L52.6 67.5 Q53 55 52.6 44.4Z" fill="#f0614a"/>
<path d="M56 48 L45 55.5 L33.4 41.5" stroke="#c68a5c" stroke-width="3.6" fill="none" stroke-linecap="round" stroke-linejoin="round"/>
<path d="M56 47 L46 52 L34 40.5" stroke="#b9794c" stroke-width="2.6" fill="none" stroke-linecap="round" stroke-linejoin="round"/>
<rect x="55.3" y="39" width="3.4" height="5.5" fill="#b9794c"/>
<ellipse cx="57" cy="35.5" rx="4.6" ry="5.6" fill="#c68a5c"/>
<path d="M52.6 31.5 Q54 27 59 27.5 Q64 28.5 63.5 34 L62.5 38.5 Q60.5 36 60.5 32.5 Q56 33 52.6 31.5Z" fill="#4a2f22"/>
<path d="M52.2 30.8 L63.8 32.2 L63.6 34.6 L52 33.2Z" fill="#e8503a"/>
<path d="M39.5 106 Q44 103.5 48.5 105.5 L48.5 108.5 L39.5 108.5Z" fill="#2b9aa6"/>
<path d="M58.5 108 Q63 105 68 106.5 L68.5 110.5 L58.5 110.5Z" fill="#2b9aa6"/>
</svg>
<svg class="b" style="left:185px;top:2115px" width="120" height="120" viewBox="0 0 120 120">
<circle cx="58.9" cy="65" r="40" fill="#dcdcdc"/>
<path d="M61 17.5 Q66 13.5 71 17 Q74.5 22 75.5 34.5 L69 34 L62 28Z" fill="#6a4a3b"/>
<ellipse cx="64" cy="24.5" rx="4.2" ry="5.6" fill="#e8b48c"/>
<path d="M61 19 Q66 14 71 18 Q69 22 64 20 Q62 20 61 19Z" fill="#6a4a3b"/>
<rect x="64" y="29" width="3.2" height="5" fill="#dba57c"/>
<path d="M62.5 33.5 Q68 31.5 74 34.5 L75 51 L64 51Z" fill="#f0614a"/>
<path d="M65 39.5 L74.5 39.5 L76 61 L79 85 L81.5 102.5 L76.5 103.5 L69.5 70 L66 85 L62.5 102 L58 101.5 L61 80 L62.5 61Z" fill="#2b9aa6"/>
<path d="M66 34 L65.5 41 M73 34.5 L73.5 41" stroke="#2b9aa6" stroke-width="1.8"/>
<path d="M56.3 34 L31.3 94.2" stroke="#2a2d3a" stroke-width="1.5" stroke-linecap="round"/>
<path d="M64.5 37.5 L57 44.5 L52.5 40" stroke="#e8b48c" stroke-width="2.8" fill="none" stroke-linecap="round" stroke-linejoin="round"/>
<path d="M72 38 L64.5 50 L47.5 55.5" stroke="#e8b48c" stroke-width="2.8" fill="none" stroke-linecap="round" stroke-linejoin="round"/>
<path d="M20 92 L40.5 99 L39.5 104 L34 101.5 L32 103 L28 99.5 L24 100.5 L22 96.5 L18 96.5Z" fill="#1f2029"/>
<path d="M53 102.5 Q58 100.5 63 102 L63 105 L53 105Z" fill="#2a3350"/>
<path d="M73 104.5 Q78 102.5 83.5 104 L83.5 107 L73 107Z" fill="#2a3350"/>
</svg>
<svg class="b" style="left:345px;top:2115px" width="120" height="120" viewBox="0 0 120 120">
<circle cx="61" cy="65" r="40" fill="#dcdcdc"/>
<path d="M53 38.5 L72 34 L87.5 31" stroke="#d99a6c" stroke-width="2.8" fill="none" stroke-linecap="round" stroke-linejoin="round"/>
<path d="M76 53.5 L98 55.5" stroke="#c93a28" stroke-width="7" stroke-linecap="round"/>
<path d="M98.5 54 Q97 42 89 28.5" stroke="#d99a6c" stroke-width="4" fill="none" stroke-linecap="round"/>
<path d="M88 29 L85.5 22 L88.5 21 L91.5 27.5Z" fill="#d99a6c"/>
<path d="M47 38 L59 45 L74 49 L72 58 L58 53 L46 44Z" fill="#d99a6c"/>
<path d="M46 38 Q52 38 57.5 43 L56.5 52 Q50 51.5 45.5 46.5Z" fill="#2b9aa6"/>
<path d="M68 49.5 Q76 49 77.5 56 L76.5 72 L75.5 91 L70.5 91 L69.5 72 Q66.5 60 68 49.5Z" fill="#f0614a"/>
<path d="M73 91 L72 107" stroke="#d99a6c" stroke-width="3.6" stroke-linecap="round"/>
<path d="M63.5 110.5 Q68 107 74 107.5 L74.5 110.5Z" fill="#d99a6c"/>
<path d="M49 42.5 L32 45 L13 41" stroke="#d99a6c" stroke-width="2.8" fill="none" stroke-linecap="round" stroke-linejoin="round"/>
<circle cx="12" cy="40.5" r="1.9" fill="#d99a6c"/>
<ellipse cx="40" cy="32" rx="4.4" ry="5.6" fill="#e8b48c"/>
<path d="M32.5 28 Q33 21.5 40 21.5 Q47 22 49 28 Q51.5 33 50.5 36 Q46 36.5 43.5 32 Q42 28 37 29.5 Q34 30 32.5 28Z" fill="#6a4a3b"/>
</svg>
<svg class="b" style="left:505px;top:2115px" width="120" height="120" viewBox="0 0 120 120">
<circle cx="63" cy="65" r="40" fill="#dcdcdc"/>
<path d="M75 17 Q80 12 86 16 Q91 22 94 33 Q88 34 84 29 L78 27Z" fill="#6a4a3b"/>
<ellipse cx="78.5" cy="24.5" rx="4.2" ry="5.6" fill="#d99a6c"/>
<path d="M74.5 19.5 Q79 13.5 85 17 Q83 22.5 78 20.5Z" fill="#6a4a3b"/>
<rect x="78.5" y="29" width="3.2" height="5" fill="#c98a5c"/>
<path d="M86 37 L97 52 L102.5 68.5" stroke="#c98a5c" stroke-width="2.8" fill="none" stroke-linecap="round" stroke-linejoin="round"/>
<path d="M85 78 L93 89 L104 99" stroke="#c98a5c" stroke-width="3.4" fill="none" stroke-linecap="round" stroke-linejoin="round"/>
<path d="M72 77 L66 90 L62.5 103" stroke="#d99a6c" stroke-width="3.4" fill="none" stroke-linecap="round" stroke-linejoin="round"/>
<path d="M78 33.5 Q82 32 86.5 34 Q88 48 93 79.5 Q80 80.5 67.5 77 Q76 55 78 33.5Z" fill="#f0614a"/>
<path d="M78.5 38 L66 51 L55 56.5" stroke="#d99a6c" stroke-width="2.8" fill="none" stroke-linecap="round" stroke-linejoin="round"/>
<path d="M54.4 57 L19.9 91.6" stroke="#8a8a8a" stroke-width="0.8"/>
<path d="M56 105.5 Q62 102.5 66.5 104.5 L66.5 106.8 L56 106.8Z" fill="#e8503a"/>
<path d="M100.5 105 L106 97.5 L108.5 99.5 L103 107Z" fill="#e8503a"/>
<path d="M8 89.5 Q12 88 17 90.5 L21 93.5 Q32 92 42 95 Q45.5 93 46.5 87 L47.8 87.3 Q47.5 94.5 44.5 97.5 L46 105 L44 105.5 L41 100.5 Q32 102 24 100.5 L22.5 105.5 L20.5 105.5 L20 99 Q16 97.5 14.5 94 L9 93Z" fill="#2a3044"/>
<path d="M17.5 90.5 L20.5 93 L19 96 L16 93.5Z" fill="#e8503a"/>
</svg>
<div class="t" style="left:56.02px;top:2243.17px;font-size:21px;color:#777;transform:scaleX(1.0245);-webkit-text-stroke:0.7px #fff;">Tenis</div>
<div class="t" style="left:49.07px;top:2268.09px;font-size:19.5px;color:#757575;font-weight:700;transform:scaleX(1.0831);">52 min</div>
<div class="t" style="left:201.89px;top:2243.17px;font-size:21px;color:#777;transform:scaleX(1.0095);-webkit-text-stroke:0.7px #fff;">Cleaning</div>
<div class="t" style="left:204.46px;top:2268.09px;font-size:19.5px;color:#757575;font-weight:700;transform:scaleX(1.0613);">103 min</div>
<div class="t" style="left:384.26px;top:2243.17px;font-size:21px;color:#777;transform:scaleX(0.9256);-webkit-text-stroke:0.7px #fff;">Yoga</div>
<div class="t" style="left:374.61px;top:2268.09px;font-size:19.5px;color:#757575;font-weight:700;transform:scaleX(1.0799);">97 min</div>
<div class="t" style="left:528.39px;top:2243.17px;font-size:21px;color:#777;transform:scaleX(0.9848);-webkit-text-stroke:0.7px #fff;">Pet Care</div>
<div class="t" style="left:530.72px;top:2268.09px;font-size:19.5px;color:#757575;font-weight:700;transform:scaleX(1.0484);">124 min</div>
<!-- vitamins -->
<div class="b" style="left:-50px;top:2354px;width:361.5px;height:13.5px;background:#66ab90;border-radius:0 6.75px 6.75px 0;"></div>
<div class="b" style="left:314.2px;top:2353.1px;width:14.8px;height:14.8px;background:#66ab90;border-radius:50%;"></div>
<div class="b" style="left:-50px;top:2367px;width:431px;height:15px;background:#66ab90;border-radius:0 7.5px 7.5px 0;"></div>
<div class="b" style="left:-50px;top:2381.5px;width:460px;height:15.7px;background:#66ab90;border-radius:0 7.85px 7.85px 0;"></div>
<div class="b" style="left:416px;top:2382.5px;width:14.8px;height:14.8px;background:#66ab90;border-radius:50%;"></div>
<div class="b" style="left:25.9px;top:2380.8px;width:14.6px;height:14.6px;background:#76bea3;border-radius:50%;"></div>
<div class="b" style="left:46.5px;top:2380.9px;width:293px;height:14.4px;background:#76bea3;border-radius:7.2px;"></div>
<div class="b" style="left:344.3px;top:2380.8px;width:14.6px;height:14.6px;background:#76bea3;border-radius:50%;"></div>
<div class="b" style="left:77px;top:2395.3px;width:233px;height:13.7px;background:#76bea3;border-radius:6.85px;"></div>
<div class="t" style="left:401.95px;top:2333.23px;font-size:43.2px;color:#47ab80;font-weight:700;transform:scaleX(1.0845);">VITAMINS</div>
<div class="t" style="left:442.45px;top:2378.82px;font-size:20.25px;color:#47a87d;transform:scaleX(0.9051);-webkit-text-stroke:0.45px #fff;">(% OF DAILY VALUE)</div>
<div class="b" style="left:71.2px;top:2632.1px;width:533.8px;height:1px;background:#cccccc;"></div>
<div class="t" style="left:50.96px;top:2621.72px;font-size:22px;color:#8a8a8a;transform:scaleX(0.9519);-webkit-text-stroke:0.4px #fff;">0</div>
<div class="b" style="left:71.2px;top:2596.76px;width:533.8px;height:1px;background:#e3e3e3;"></div>
<div class="t" style="left:38.2px;top:2586.38px;font-size:22px;color:#8a8a8a;-webkit-text-stroke:0.4px #fff;">20</div>
<div class="b" style="left:71.2px;top:2561.42px;width:533.8px;height:1px;background:#e3e3e3;"></div>
<div class="t" style="left:38.82px;top:2551.04px;font-size:22px;color:#8a8a8a;transform:scaleX(0.974);-webkit-text-stroke:0.4px #fff;">40</div>
<div class="b" style="left:71.2px;top:2526.08px;width:533.8px;height:1px;background:#e3e3e3;"></div>
<div class="t" style="left:38.2px;top:2515.7px;font-size:22px;color:#8a8a8a;-webkit-text-stroke:0.4px #fff;">60</div>
<div class="b" style="left:71.2px;top:2490.74px;width:533.8px;height:1px;background:#e3e3e3;"></div>
<div class="t" style="left:38.37px;top:2480.36px;font-size:22px;color:#8a8a8a;transform:scaleX(0.9929);-webkit-text-stroke:0.4px #fff;">80</div>
<div class="b" style="left:71.2px;top:2455.4px;width:533.8px;height:1px;background:#e3e3e3;"></div>
<div class="t" style="left:27.21px;top:2445.02px;font-size:22px;color:#8a8a8a;transform:scaleX(0.9646);-webkit-text-stroke:0.4px #fff;">100</div>
<div class="b" style="left:70.7px;top:2455.9px;width:1px;height:176.7px;background:#cccccc;"></div>
<div class="b" style="left:85.44px;top:2628.66px;width:16px;height:3.94px;background:#6dba8c;"></div>
<div class="t" style="left:86.12px;top:2600.74px;font-size:21.55px;color:#6dba8c;transform:scaleX(1.2238);-webkit-text-stroke:0.35px #fff;">2</div>
<div class="t" style="left:85.88px;top:2641.62px;font-size:22.5px;color:#757575;transform:scaleX(1.0734);-webkit-text-stroke:0.2px #fff;">A</div>
<div class="b" style="left:129.93px;top:2623.2px;width:16px;height:9.4px;background:#6dba8c;"></div>
<div class="t" style="left:130.91px;top:2595.28px;font-size:21.55px;color:#6dba8c;transform:scaleX(1.1723);-webkit-text-stroke:0.35px #fff;">5</div>
<div class="t" style="left:127.72px;top:2641.62px;font-size:22.5px;color:#757575;transform:scaleX(0.7567);-webkit-text-stroke:0.2px #fff;">B1</div>
<div class="b" style="left:174.41px;top:2623.2px;width:16px;height:9.4px;background:#6dba8c;"></div>
<div class="t" style="left:175.4px;top:2595.28px;font-size:21.55px;color:#6dba8c;transform:scaleX(1.1723);-webkit-text-stroke:0.35px #fff;">5</div>
<div class="t" style="left:169.38px;top:2641.62px;font-size:22.5px;color:#757575;transform:scaleX(0.9582);-webkit-text-stroke:0.2px #fff;">B2</div>
<div class="b" style="left:218.89px;top:2610.46px;width:16px;height:22.14px;background:#6dba8c;"></div>
<div class="t" style="left:215.94px;top:2582.54px;font-size:21.55px;color:#6dba8c;transform:scaleX(0.8951);-webkit-text-stroke:0.35px #fff;">12</div>
<div class="t" style="left:213.88px;top:2641.62px;font-size:22.5px;color:#757575;transform:scaleX(0.9517);-webkit-text-stroke:0.2px #fff;">B3</div>
<div class="b" style="left:263.38px;top:2617.74px;width:16px;height:14.86px;background:#6dba8c;"></div>
<div class="t" style="left:264.29px;top:2589.82px;font-size:21.55px;color:#6dba8c;transform:scaleX(1.1848);-webkit-text-stroke:0.35px #fff;">8</div>
<div class="t" style="left:258.36px;top:2641.62px;font-size:22.5px;color:#757575;transform:scaleX(0.9495);-webkit-text-stroke:0.2px #fff;">B5</div>
<div class="b" style="left:307.86px;top:2605px;width:16px;height:27.6px;background:#6dba8c;"></div>
<div class="t" style="left:304.93px;top:2577.08px;font-size:21.55px;color:#6dba8c;transform:scaleX(0.8861);-webkit-text-stroke:0.35px #fff;">15</div>
<div class="t" style="left:302.27px;top:2641.62px;font-size:22.5px;color:#757575;transform:scaleX(0.9922);-webkit-text-stroke:0.2px #fff;">B6</div>
<div class="b" style="left:352.34px;top:2631.6px;width:16px;height:1px;background:#6dba8c;"></div>
<div class="t" style="left:353.34px;top:2603.68px;font-size:21.55px;color:#6dba8c;transform:scaleX(1.1662);-webkit-text-stroke:0.35px #fff;">0</div>
<div class="t" style="left:346.75px;top:2641.62px;font-size:22.5px;color:#757575;transform:scaleX(0.9944);-webkit-text-stroke:0.2px #fff;">B9</div>
<div class="b" style="left:396.82px;top:2631.6px;width:16px;height:1px;background:#6dba8c;"></div>
<div class="t" style="left:397.82px;top:2603.68px;font-size:21.55px;color:#6dba8c;transform:scaleX(1.1662);-webkit-text-stroke:0.35px #fff;">0</div>
<div class="t" style="left:386.62px;top:2641.62px;font-size:22.5px;color:#757575;transform:scaleX(0.9186);-webkit-text-stroke:0.2px #fff;">B12</div>
<div class="b" style="left:441.31px;top:2631.6px;width:16px;height:1px;background:#6dba8c;"></div>
<div class="t" style="left:442.3px;top:2603.68px;font-size:21.55px;color:#6dba8c;transform:scaleX(1.1662);-webkit-text-stroke:0.35px #fff;">0</div>
<div class="t" style="left:441.94px;top:2641.62px;font-size:22.5px;color:#757575;transform:scaleX(0.9519);-webkit-text-stroke:0.2px #fff;">C</div>
<div class="b" style="left:485.79px;top:2617.74px;width:16px;height:14.86px;background:#6dba8c;"></div>
<div class="t" style="left:486.71px;top:2589.82px;font-size:21.55px;color:#6dba8c;transform:scaleX(1.1848);-webkit-text-stroke:0.35px #fff;">8</div>
<div class="t" style="left:485.15px;top:2641.62px;font-size:22.5px;color:#757575;transform:scaleX(1.0727);-webkit-text-stroke:0.2px #fff;">D</div>
<div class="b" style="left:530.27px;top:2626.84px;width:16px;height:5.76px;background:#6dba8c;"></div>
<div class="t" style="left:531.33px;top:2598.92px;font-size:21.55px;color:#6dba8c;transform:scaleX(1.1723);-webkit-text-stroke:0.35px #fff;">3</div>
<div class="t" style="left:531.93px;top:2641.62px;font-size:22.5px;color:#757575;transform:scaleX(0.8602);-webkit-text-stroke:0.2px #fff;">E</div>
<div class="b" style="left:574.76px;top:2610.46px;width:16px;height:22.14px;background:#6dba8c;"></div>
<div class="t" style="left:571.81px;top:2582.54px;font-size:21.55px;color:#6dba8c;transform:scaleX(0.8951);-webkit-text-stroke:0.35px #fff;">12</div>
<div class="t" style="left:575.27px;top:2641.62px;font-size:22.5px;color:#757575;transform:scaleX(0.9626);-webkit-text-stroke:0.2px #fff;">K</div>
<!-- minerals -->
<div class="b" style="left:342.8px;top:2736.5px;width:357.2px;height:14.9px;background:#9b5cf7;border-radius:7.45px 0 0 7.45px;"></div>
<div class="b" style="left:324.2px;top:2736.2px;width:13.6px;height:13.6px;background:#9b5cf7;border-radius:50%;"></div>
<div class="b" style="left:272px;top:2751.1px;width:428px;height:15.2px;background:#9b5cf7;border-radius:7.6px 0 0 7.6px;"></div>
<div class="b" style="left:242.2px;top:2766px;width:457.8px;height:15px;background:#9b5cf7;border-radius:7.5px 0 0 7.5px;"></div>
<div class="b" style="left:221.7px;top:2765.9px;width:14.6px;height:14.6px;background:#9b5cf7;border-radius:50%;"></div>
<div class="b" style="left:313.2px;top:2758.2px;width:14.6px;height:14.6px;background:#bf97fb;border-radius:50%;"></div>
<div class="b" style="left:332.8px;top:2758px;width:254.2px;height:15px;background:#bf97fb;border-radius:7.5px;"></div>
<div class="b" style="left:592.4px;top:2758.4px;width:14.8px;height:14.8px;background:#bf97fb;border-radius:50%;"></div>
<div class="b" style="left:362.7px;top:2746.6px;width:192.1px;height:12.9px;background:#bf97fb;border-radius:6.45px;"></div>
<div class="t" style="left:29.24px;top:2716.93px;font-size:43.2px;color:#7c6de8;font-weight:700;transform:scaleX(1.0137);">MINERALS</div>
<div class="t" style="left:30.16px;top:2761.52px;font-size:20.25px;color:#7868de;transform:scaleX(0.9025);-webkit-text-stroke:0.45px #fff;">(% OF DAILY VALUE)</div>
<div class="b" style="left:70.8px;top:3015.4px;width:533.8px;height:1px;background:#cccccc;"></div>
<div class="t" style="left:50.96px;top:3005.02px;font-size:22px;color:#8a8a8a;transform:scaleX(0.9519);-webkit-text-stroke:0.4px #fff;">0</div>
<div class="b" style="left:70.8px;top:2980.06px;width:533.8px;height:1px;background:#e3e3e3;"></div>
<div class="t" style="left:38.2px;top:2969.68px;font-size:22px;color:#8a8a8a;-webkit-text-stroke:0.4px #fff;">20</div>
<div class="b" style="left:70.8px;top:2944.72px;width:533.8px;height:1px;background:#e3e3e3;"></div>
<div class="t" style="left:38.82px;top:2934.34px;font-size:22px;color:#8a8a8a;transform:scaleX(0.974);-webkit-text-stroke:0.4px #fff;">40</div>
<div class="b" style="left:70.8px;top:2909.38px;width:533.8px;height:1px;background:#e3e3e3;"></div>
<div class="t" style="left:38.2px;top:2899px;font-size:22px;color:#8a8a8a;-webkit-text-stroke:0.4px #fff;">60</div>
<div class="b" style="left:70.8px;top:2874.04px;width:533.8px;height:1px;background:#e3e3e3;"></div>
<div class="t" style="left:38.37px;top:2863.66px;font-size:22px;color:#8a8a8a;transform:scaleX(0.9929);-webkit-text-stroke:0.4px #fff;">80</div>
<div class="b" style="left:70.8px;top:2838.7px;width:533.8px;height:1px;background:#e3e3e3;"></div>
<div class="t" style="left:27.21px;top:2828.32px;font-size:22px;color:#8a8a8a;transform:scaleX(0.9646);-webkit-text-stroke:0.4px #fff;">100</div>
<div class="b" style="left:70.3px;top:2839.2px;width:1px;height:176.7px;background:#cccccc;"></div>
<div class="b" style="left:92.46px;top:3010.14px;width:16px;height:5.76px;background:#7b6fe0;"></div>
<div class="t" style="left:93.51px;top:2982.22px;font-size:21.55px;color:#8a7ce8;transform:scaleX(1.1723);-webkit-text-stroke:0.35px #fff;">3</div>
<div class="t" style="left:87.33px;top:3024.92px;font-size:22.5px;color:#757575;transform:scaleX(0.9106);-webkit-text-stroke:0.2px #fff;">Ca</div>
<div class="b" style="left:151.77px;top:3011.96px;width:16px;height:3.94px;background:#7b6fe0;"></div>
<div class="t" style="left:152.45px;top:2984.04px;font-size:21.55px;color:#8a7ce8;transform:scaleX(1.2238);-webkit-text-stroke:0.35px #fff;">2</div>
<div class="t" style="left:146.42px;top:3024.92px;font-size:22.5px;color:#757575;transform:scaleX(0.9749);-webkit-text-stroke:0.2px #fff;">Cu</div>
<div class="b" style="left:211.08px;top:3006.5px;width:16px;height:9.4px;background:#7b6fe0;"></div>
<div class="t" style="left:212.07px;top:2978.58px;font-size:21.55px;color:#8a7ce8;transform:scaleX(1.1723);-webkit-text-stroke:0.35px #fff;">5</div>
<div class="t" style="left:205.38px;top:3024.92px;font-size:22.5px;color:#757575;transform:scaleX(1.047);-webkit-text-stroke:0.2px #fff;">Fe</div>
<div class="b" style="left:270.39px;top:3001.04px;width:16px;height:14.86px;background:#7b6fe0;"></div>
<div class="t" style="left:271.3px;top:2973.12px;font-size:21.55px;color:#8a7ce8;transform:scaleX(1.1848);-webkit-text-stroke:0.35px #fff;">8</div>
<div class="t" style="left:270.39px;top:3024.92px;font-size:22.5px;color:#757575;transform:scaleX(1.0247);-webkit-text-stroke:0.2px #fff;">K</div>
<div class="b" style="left:329.7px;top:2993.76px;width:16px;height:22.14px;background:#7b6fe0;"></div>
<div class="t" style="left:326.75px;top:2965.84px;font-size:21.55px;color:#8a7ce8;transform:scaleX(0.8951);-webkit-text-stroke:0.35px #fff;">12</div>
<div class="t" style="left:320.92px;top:3024.92px;font-size:22.5px;color:#757575;transform:scaleX(1.091);-webkit-text-stroke:0.2px #fff;">Mg</div>
<div class="b" style="left:389.01px;top:2982.84px;width:16px;height:33.06px;background:#7b6fe0;"></div>
<div class="t" style="left:386.08px;top:2954.92px;font-size:21.55px;color:#8a7ce8;transform:scaleX(0.8883);-webkit-text-stroke:0.35px #fff;">18</div>
<div class="t" style="left:379.95px;top:3024.92px;font-size:22.5px;color:#757575;transform:scaleX(1.1089);-webkit-text-stroke:0.2px #fff;">Mn</div>
<div class="b" style="left:448.32px;top:2988.3px;width:16px;height:27.6px;background:#7b6fe0;"></div>
<div class="t" style="left:445.39px;top:2960.38px;font-size:21.55px;color:#8a7ce8;transform:scaleX(0.8861);-webkit-text-stroke:0.35px #fff;">15</div>
<div class="t" style="left:448.31px;top:3024.92px;font-size:22.5px;color:#757575;transform:scaleX(1.085);-webkit-text-stroke:0.2px #fff;">P</div>
<div class="b" style="left:507.63px;top:3002.86px;width:16px;height:13.04px;background:#7b6fe0;"></div>
<div class="t" style="left:508.31px;top:2974.94px;font-size:21.55px;color:#8a7ce8;transform:scaleX(1.2238);-webkit-text-stroke:0.35px #fff;">7</div>
<div class="t" style="left:501.83px;top:3024.92px;font-size:22.5px;color:#757575;transform:scaleX(1.0377);-webkit-text-stroke:0.2px #fff;">Se</div>
<div class="b" style="left:566.94px;top:3002.86px;width:16px;height:13.04px;background:#7b6fe0;"></div>
<div class="t" style="left:567.63px;top:2974.94px;font-size:21.55px;color:#8a7ce8;transform:scaleX(1.2238);-webkit-text-stroke:0.35px #fff;">7</div>
<div class="t" style="left:561.39px;top:3024.92px;font-size:22.5px;color:#757575;transform:scaleX(1.1007);-webkit-text-stroke:0.2px #fff;">Zn</div>
<!-- amino -->
<div class="b" style="left:-50px;top:3104px;width:330px;height:14.5px;background:#ecbe65;border-radius:0 7.25px 7.25px 0;"></div>
<div class="b" style="left:285.4px;top:3103.3px;width:14.6px;height:14.6px;background:#ecbe65;border-radius:50%;"></div>
<div class="b" style="left:-50px;top:3118px;width:301px;height:15px;background:#ecbe65;border-radius:0 7.5px 7.5px 0;"></div>
<div class="b" style="left:-50px;top:3132.5px;width:230px;height:14.5px;background:#ecbe65;border-radius:0 7.25px 7.25px 0;"></div>
<div class="b" style="left:183.2px;top:3132.5px;width:14.6px;height:14.6px;background:#ecbe65;border-radius:50%;"></div>
<div class="b" style="left:-50px;top:3118px;width:235px;height:14.5px;background:#fbd685;border-radius:0 7.25px 7.25px 0;"></div>
<div class="b" style="left:193.1px;top:3118.2px;width:14.6px;height:14.6px;background:#fbd685;border-radius:50%;"></div>
<div class="b" style="left:-50px;top:3132px;width:208px;height:14px;background:#fbd685;border-radius:0 7px 7px 0;"></div>
<div class="t" style="left:315.35px;top:3097.13px;font-size:43.2px;color:#edc16c;font-weight:700;transform:scaleX(1.063);">AMINO ACIDS</div>
<div class="t" style="left:256.79px;top:3141.46px;font-size:21.85px;color:#eabc62;transform:scaleX(0.8273);-webkit-text-stroke:0.45px #fff;">THESE ARE ESSENTIAL FOR YOUR BODY</div>
<div class="b" style="left:92.4px;top:3194.1px;width:23.6px;height:23.6px;background:#fbd68b;border-radius:50%;"></div>
<div class="b" style="left:44px;top:3240.1px;width:14px;height:14px;background:#fbd68b;border-radius:50%;"></div>
<div class="b" style="left:45px;top:3194.1px;width:64.8px;height:64.8px;background:#ecc270;border-radius:50%;"></div>
<div class="t" style="left:55.26px;top:3211.77px;font-size:21.3px;color:#fff;font-weight:700;transform:scaleX(1.0477);">0.15</div>
<div class="t" style="left:73.24px;top:3232.58px;font-size:14.8px;color:#fff;-webkit-text-stroke:0.3px #ecc270;">g</div>
<div class="t" style="left:37.24px;top:3271.83px;font-size:21px;color:#5c5c5c;transform:scaleX(1.014);-webkit-text-stroke:0.6px #fff;">Histidine</div>
<div class="b" style="left:170px;top:3192.6px;width:17.4px;height:17.4px;background:#fbd68b;border-radius:50%;"></div>
<div class="b" style="left:221.2px;top:3233.8px;width:20.4px;height:20.4px;background:#fbd68b;border-radius:50%;"></div>
<div class="b" style="left:170.1px;top:3194.1px;width:64.8px;height:64.8px;background:#ecc270;border-radius:50%;"></div>
<div class="t" style="left:181.19px;top:3211.77px;font-size:21.3px;color:#fff;font-weight:700;transform:scaleX(1.0077);">0.21</div>
<div class="t" style="left:198.34px;top:3232.58px;font-size:14.8px;color:#fff;-webkit-text-stroke:0.3px #ecc270;">g</div>
<div class="t" style="left:153.99px;top:3271.83px;font-size:21px;color:#5c5c5c;transform:scaleX(1.0085);-webkit-text-stroke:0.6px #fff;">Isoleucine</div>
<div class="b" style="left:293.8px;top:3193.3px;width:16px;height:16px;background:#fbd68b;border-radius:50%;"></div>
<div class="b" style="left:345.2px;top:3193.5px;width:21.6px;height:21.6px;background:#fbd68b;border-radius:50%;"></div>
<div class="b" style="left:293.3px;top:3238.3px;width:14px;height:14px;background:#fbd68b;border-radius:50%;"></div>
<div class="b" style="left:295.2px;top:3194.1px;width:64.8px;height:64.8px;background:#ecc270;border-radius:50%;"></div>
<div class="t" style="left:302.28px;top:3211.77px;font-size:21.3px;color:#fff;font-weight:700;transform:scaleX(1.2003);">0.65</div>
<div class="t" style="left:323.44px;top:3232.58px;font-size:14.8px;color:#fff;-webkit-text-stroke:0.3px #ecc270;">g</div>
<div class="t" style="left:288.15px;top:3271.83px;font-size:21px;color:#5c5c5c;transform:scaleX(1.0123);-webkit-text-stroke:0.6px #fff;">Leucine</div>
<div class="b" style="left:469.8px;top:3194.2px;width:21.6px;height:21.6px;background:#fbd68b;border-radius:50%;"></div>
<div class="b" style="left:416.9px;top:3238.1px;width:13px;height:13px;background:#fbd68b;border-radius:50%;"></div>
<div class="b" style="left:420.3px;top:3194.1px;width:64.8px;height:64.8px;background:#ecc270;border-radius:50%;"></div>
<div class="t" style="left:429.72px;top:3211.77px;font-size:21.3px;color:#fff;font-weight:700;transform:scaleX(1.0878);">0.25</div>
<div class="t" style="left:448.54px;top:3232.58px;font-size:14.8px;color:#fff;-webkit-text-stroke:0.3px #ecc270;">g</div>
<div class="t" style="left:420.67px;top:3271.83px;font-size:21px;color:#5c5c5c;transform:scaleX(0.9725);-webkit-text-stroke:0.6px #fff;">Lysine</div>
<div class="b" style="left:544px;top:3194.1px;width:17.4px;height:17.4px;background:#fbd68b;border-radius:50%;"></div>
<div class="b" style="left:545px;top:3237.8px;width:13.6px;height:13.6px;background:#fbd68b;border-radius:50%;"></div>
<div class="b" style="left:545.4px;top:3194.1px;width:64.8px;height:64.8px;background:#ecc270;border-radius:50%;"></div>
<div class="t" style="left:557.77px;top:3211.77px;font-size:21.3px;color:#fff;font-weight:700;transform:scaleX(0.9737);">0.11</div>
<div class="t" style="left:573.64px;top:3232.58px;font-size:14.8px;color:#fff;-webkit-text-stroke:0.3px #ecc270;">g</div>
<div class="t" style="left:521.15px;top:3271.83px;font-size:21px;color:#5c5c5c;transform:scaleX(1.0113);-webkit-text-stroke:0.6px #fff;">Methionine</div>
<div class="b" style="left:91.9px;top:3323.2px;width:23.6px;height:23.6px;background:#fbd68b;border-radius:50%;"></div>
<div class="b" style="left:43.4px;top:3370px;width:12.4px;height:12.4px;background:#fbd68b;border-radius:50%;"></div>
<div class="b" style="left:45px;top:3323.9px;width:64.8px;height:64.8px;background:#ecc270;border-radius:50%;"></div>
<div class="t" style="left:53.69px;top:3341.57px;font-size:21.3px;color:#fff;font-weight:700;transform:scaleX(1.1273);">0.26</div>
<div class="t" style="left:73.24px;top:3362.38px;font-size:14.8px;color:#fff;-webkit-text-stroke:0.3px #ecc270;">g</div>
<div class="t" style="left:11.73px;top:3401.63px;font-size:21px;color:#5c5c5c;transform:scaleX(0.9938);-webkit-text-stroke:0.6px #fff;">Phenylalanine</div>
<div class="b" style="left:169.7px;top:3322.6px;width:17.4px;height:17.4px;background:#fbd68b;border-radius:50%;"></div>
<div class="b" style="left:224.8px;top:3364.7px;width:18.6px;height:18.6px;background:#fbd68b;border-radius:50%;"></div>
<div class="b" style="left:170.1px;top:3323.9px;width:64.8px;height:64.8px;background:#ecc270;border-radius:50%;"></div>
<div class="t" style="left:181.19px;top:3341.57px;font-size:21.3px;color:#fff;font-weight:700;transform:scaleX(1.0077);">0.21</div>
<div class="t" style="left:198.34px;top:3362.38px;font-size:14.8px;color:#fff;-webkit-text-stroke:0.3px #ecc270;">g</div>
<div class="t" style="left:155.14px;top:3401.63px;font-size:21px;color:#5c5c5c;transform:scaleX(0.9765);-webkit-text-stroke:0.6px #fff;">Threonine</div>
<div class="b" style="left:293.4px;top:3323.5px;width:16.8px;height:16.8px;background:#fbd68b;border-radius:50%;"></div>
<div class="b" style="left:350.4px;top:3365.9px;width:17.4px;height:17.4px;background:#fbd68b;border-radius:50%;"></div>
<div class="b" style="left:295.2px;top:3323.9px;width:64.8px;height:64.8px;background:#ecc270;border-radius:50%;"></div>
<div class="t" style="left:302.27px;top:3341.57px;font-size:21.3px;color:#fff;font-weight:700;transform:scaleX(1.2051);">0.06</div>
<div class="t" style="left:323.44px;top:3362.38px;font-size:14.8px;color:#fff;-webkit-text-stroke:0.3px #ecc270;">g</div>
<div class="t" style="left:274.94px;top:3401.63px;font-size:21px;color:#5c5c5c;transform:scaleX(0.9823);-webkit-text-stroke:0.6px #fff;">Tryptophan</div>
<div class="b" style="left:417.8px;top:3322.6px;width:17.4px;height:17.4px;background:#fbd68b;border-radius:50%;"></div>
<div class="b" style="left:472.9px;top:3325.7px;width:18.6px;height:18.6px;background:#fbd68b;border-radius:50%;"></div>
<div class="b" style="left:417.8px;top:3370.6px;width:11.2px;height:11.2px;background:#fbd68b;border-radius:50%;"></div>
<div class="b" style="left:420.3px;top:3323.9px;width:64.8px;height:64.8px;background:#ecc270;border-radius:50%;"></div>
<div class="t" style="left:429.72px;top:3341.57px;font-size:21.3px;color:#fff;font-weight:700;transform:scaleX(1.0921);">0.29</div>
<div class="t" style="left:448.54px;top:3362.38px;font-size:14.8px;color:#fff;-webkit-text-stroke:0.3px #ecc270;">g</div>
<div class="t" style="left:421.29px;top:3401.63px;font-size:21px;color:#5c5c5c;transform:scaleX(1.0142);-webkit-text-stroke:0.6px #fff;">Valine</div>
<div class="b" style="left:523.5px;top:3341.5px;width:174px;height:42px;transform:scale(-1,-1);"><div class="b" style="left:0px;top:0px;width:151px;height:14.2px;background:#f7f7f7;border-radius:7.1px;"></div><div class="b" style="left:155.2px;top:0.2px;width:13.6px;height:13.6px;background:#f7f7f7;border-radius:50%;"></div><div class="b" style="left:21px;top:27.8px;width:153px;height:14.2px;background:#f7f7f7;border-radius:7.1px;"></div><div class="b" style="left:66px;top:13.5px;width:47px;height:15px;background:#f7f7f7;"></div><div class="b" style="left:40px;top:14px;width:36.5px;height:14px;background:#fff;border-radius:7px;"></div><div class="b" style="left:103.5px;top:14px;width:36.5px;height:14px;background:#fff;border-radius:7px;"></div></div>
<!-- footer -->
<div class="b" style="left:0px;top:3473px;width:650px;height:233px;background:#6b9461;"></div>
<svg class="b" style="left:0;top:3448.5px" width="650" height="30" viewBox="0 345 650 30"><path d="M-30 355 C-25 355.15 -11.83 355.02 0 355.9 C11.83 356.78 27.67 358.87 41 360.3 C54.33 361.73 63.5 363.55 80 364.5 C96.5 365.45 117.5 366.25 140 366 C162.5 365.75 196.83 364.12 215 363 C233.17 361.88 234.83 360.67 249 359.3 C263.17 357.93 282.17 355.85 300 354.8 C317.83 353.75 339.33 352.97 356 353 C372.67 353.03 386.83 354.1 400 355 C413.17 355.9 425.17 357.57 435 358.4 C444.83 359.23 448.17 359.07 459 360 C469.83 360.93 483.17 363 500 364 C516.83 365 530 365.67 560 366 C590 366.33 660 366 680 366 L680 376 L-30 376 Z" fill="#8fb986"/><path d="M-30 367 C-25 366.93 -11.83 367.72 0 366.6 C11.83 365.48 26 362.15 41 360.3 C56 358.45 73.33 356.63 90 355.5 C106.67 354.37 124.33 353.58 141 353.5 C157.67 353.42 176.83 354.42 190 355 C203.17 355.58 210.17 356.28 220 357 C229.83 357.72 235.67 358.13 249 359.3 C262.33 360.47 282.17 362.78 300 364 C317.83 365.22 337.67 366.52 356 366.6 C374.33 366.68 396.83 365.07 410 364.5 C423.17 363.93 426.83 363.95 435 363.2 C443.17 362.45 448.17 361.28 459 360 C469.83 358.72 484.67 356.67 500 355.5 C515.33 354.33 534.33 353.2 551 353 C567.67 352.8 583.5 353.63 600 354.3 C616.5 354.97 636.67 356.22 650 357 C663.33 357.78 675 358.67 680 359 L680 376 L-30 376 Z" fill="#6b9461"/></svg>
<svg class="b" style="left:245px;top:3475.8px" width="90" height="55" viewBox="0 0 90 55">
<path d="M27.9 19.4 C25.5 14 19 12.6 14.6 16.2 C10.6 19.6 11.2 25.6 15 29.6 L26.9 42.6 L40.5 28.6 C42.6 26.4 43.8 24 44.2 21.4" fill="none" stroke="#fff" stroke-width="2.4" stroke-linecap="round" stroke-linejoin="round"/>
<path d="M27.9 19.4 C29.5 17.6 31.8 16.6 34.2 16.6" fill="none" stroke="#fff" stroke-width="2.4" stroke-linecap="round"/>
<path d="M35 21.4 C33.6 15 38.4 9.6 47.8 8.8 C49 15.6 45.6 21.4 39.4 22.2 C37.6 22.4 36 22.2 35 21.4Z" fill="#fff"/>
</svg>
<div class="t" style="left:304.91px;top:3487.58px;font-size:37.5px;color:#fff;transform:scaleX(1.063);-webkit-text-stroke:1.5px #6b9461;">inlivo</div>
<div class="t" style="left:208.7px;top:3527.33px;font-size:16.25px;color:#fff;transform:scaleX(0.9733);-webkit-text-stroke:0.25px #6b9461;">Nutrition Tracker &amp; Health Coach</div>
<div class="t" style="left:254.24px;top:3547.07px;font-size:15.85px;color:#fff;letter-spacing:2.25px;transform:scaleX(1.04);-webkit-text-stroke:0.25px #6b9461;">www.inlivo.com</div>
<div class="b" style="left:254.2px;top:3563.6px;width:143.2px;height:1px;background:#fff;"></div>
<div class="t" style="left:91.07px;top:3579.36px;font-size:13.6px;color:#fff;transform:scaleX(1.0114);-webkit-text-stroke:0.2px #6b9461;">Nothing contained in this presentation and our services is intended or implied</div>
<div class="t" style="left:183.8px;top:3595.96px;font-size:13.6px;color:#fff;transform:scaleX(1.0043);-webkit-text-stroke:0.2px #6b9461;">to be a medical advice, diagnosis or treatment.</div>
<svg class="b" style="left:280px;top:3615px" width="90" height="60" viewBox="0 0 90 60">
<path d="M14.8 30 V11.2 Q14.8 9.7 16.3 9.7 H63.9 Q65.4 9.7 65.4 11.2 V20" fill="none" stroke="#fff" stroke-width="2.6"/>
<rect x="23.9" y="38.8" width="31.5" height="5.4" fill="#fff"/>
<circle cx="40" cy="41.5" r="1" fill="#6b9461"/>
<path d="M36.6 46.8 L46.6 46.8 L50.8 52.2 L32.8 52.2Z" fill="#fff"/>
<rect x="8.4" y="29.9" width="12.5" height="23.9" rx="2" fill="#fff"/>
<rect x="10.5" y="33.6" width="8.3" height="15.6" fill="#6b9461"/>
<circle cx="14.6" cy="51.5" r="1" fill="#6b9461"/>
<rect x="58.1" y="19.9" width="23.5" height="32.3" rx="2.2" fill="#fff"/>
<rect x="60.6" y="22.4" width="18.5" height="23.6" fill="#6b9461"/>
<circle cx="66.2" cy="49.2" r="0.9" fill="#6b9461"/><circle cx="69.9" cy="49.2" r="0.9" fill="#6b9461"/><circle cx="73.6" cy="49.2" r="0.9" fill="#6b9461"/>
</svg>
<div class="t" style="left:161.87px;top:3674.96px;font-size:13.4px;color:#c9dfc3;font-weight:700;transform:scaleX(0.9949);">Available on your desktop, tablet and mobile phone</div>
</div>
</body></html>
